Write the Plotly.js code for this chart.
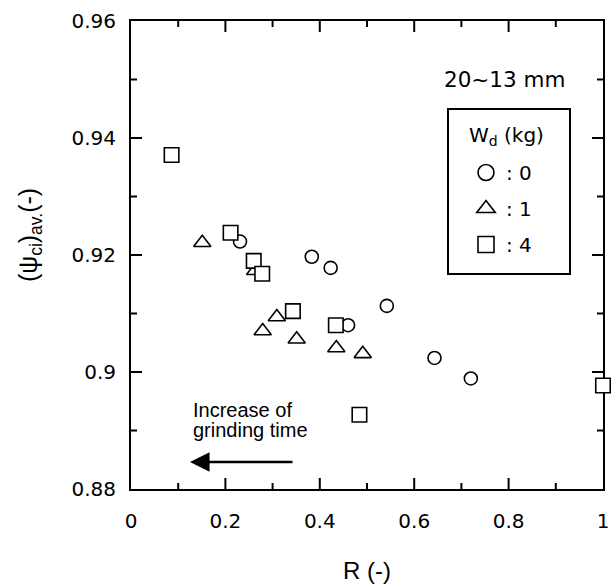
<!DOCTYPE html>
<html>
<head>
<meta charset="utf-8">
<script src="https://cdn.plot.ly/plotly-3.0.1.min.js"></script>
<style>
  html, body { margin: 0; padding: 0; background: #fff; }
  #chart { width: 611px; height: 584px; }
</style>
</head>
<body>
<div id="chart"></div>
<script>
// ---- data ----
const seriesNames = [': 0', ': 1', ': 4'];           // W_d (kg) = 0, 1, 4
const circR   = [0.231, 0.383, 0.423, 0.460, 0.542, 0.643, 0.720];
const circPsi = [0.9223, 0.9197, 0.9178, 0.9080, 0.9113, 0.9024, 0.8989];
const triR    = [0.151, 0.263, 0.279, 0.309, 0.351, 0.435, 0.491];
const triPsi  = [0.9221, 0.9173, 0.9070, 0.9094, 0.9056, 0.9041, 0.9031];
const sqR     = [0.086, 0.211, 0.260, 0.278, 0.343, 0.434, 0.484, 1.000];
const sqPsi   = [0.9371, 0.9238, 0.9190, 0.9168, 0.9104, 0.9080, 0.8927, 0.8977];
const xTickVals = [0, 0.2, 0.4, 0.6, 0.8, 1];
const xTickText = ['0', '0.2', '0.4', '0.6', '0.8', '1'];
const yTickVals = [0.88, 0.90, 0.92, 0.94, 0.96];
const yTickText = ['0.88', '0.9', '0.92', '0.94', '0.96'];
const xMinorVals = [0.1, 0.3, 0.5, 0.7, 0.9];
const yMinorVals = [0.89, 0.91, 0.93, 0.95];
const xRange = [0, 1];
const yRange = [0.88, 0.96];

const numFont = 'DejaVu Sans, sans-serif';
const txtFont = 'Liberation Sans, Arial, sans-serif';

function markerStyle(symbol, size) {
  return { symbol: symbol, size: size, color: '#ffffff',
           line: { color: '#000000', width: 1.6 } };
}

const symbols = ['circle', 'triangle-up', 'square'];
const plotSizes = [13, 15, 14.5];

const traces = [
  { x: circR, y: circPsi, name: seriesNames[0], legendgroup: 'g0', showlegend: false,
    type: 'scatter', mode: 'markers', marker: markerStyle(symbols[0], plotSizes[0]), cliponaxis: false },
  { x: triR, y: triPsi, name: seriesNames[1], legendgroup: 'g1', showlegend: false,
    type: 'scatter', mode: 'markers', marker: markerStyle(symbols[1], plotSizes[1]), cliponaxis: false },
  { x: sqR, y: sqPsi, name: seriesNames[2], legendgroup: 'g2', showlegend: false,
    type: 'scatter', mode: 'markers', marker: markerStyle(symbols[2], plotSizes[2]), cliponaxis: false }
];
// legend entries (larger symbols, as in the reference key)
for (let i = 0; i < 3; i++) {
  traces.push({ x: [null], y: [null], name: seriesNames[i], legendgroup: 'g' + i,
    type: 'scatter', mode: 'markers', marker: markerStyle(symbols[i], 16), showlegend: true });
}

const W = 611, H = 584, ML = 131, MR = 8, MT = 21, MB = 95;
const PW = W - ML - MR, PH = H - MT - MB;
const px = v => (v - ML) / PW;       // pixel -> paper x
const py = v => (H - MB - v) / PH;   // pixel -> paper y
// axis value -> paper fraction (linear axes)
const xFrac = v => (v - xRange[0]) / (xRange[1] - xRange[0]);
const yFrac = v => (v - yRange[0]) / (yRange[1] - yRange[0]);

// inward-pointing tick marks on all four sides of the frame
const tickLine = { color: '#000', width: 2 };
const tickShapes = [];
function xTicks(vals, len) {
  const d = len / PH;
  vals.forEach(v => {
    const f = xFrac(v);
    tickShapes.push({ type: 'line', layer: 'above', xref: 'paper', yref: 'paper',
      x0: f, x1: f, y0: 0, y1: d, line: tickLine });
    tickShapes.push({ type: 'line', layer: 'above', xref: 'paper', yref: 'paper',
      x0: f, x1: f, y0: 1, y1: 1 - d, line: tickLine });
  });
}
function yTicks(vals, len) {
  const d = len / PW;
  vals.forEach(v => {
    const f = yFrac(v);
    tickShapes.push({ type: 'line', layer: 'above', xref: 'paper', yref: 'paper',
      y0: f, y1: f, x0: 0, x1: d, line: tickLine });
    tickShapes.push({ type: 'line', layer: 'above', xref: 'paper', yref: 'paper',
      y0: f, y1: f, x0: 1, x1: 1 - d, line: tickLine });
  });
}
xTicks(xTickVals.slice(1, -1), 11);
xTicks(xMinorVals, 6);
yTicks(yTickVals.slice(1, -1), 11);
yTicks(yMinorVals, 6);

const layout = {
  width: W, height: H,
  margin: { l: ML, r: MR, t: MT, b: MB },
  paper_bgcolor: '#fff', plot_bgcolor: '#fff',
  showlegend: true,
  xaxis: {
    range: xRange, tickmode: 'array', tickvals: xTickVals, ticktext: xTickText,
    showline: true, linecolor: '#000', linewidth: 2, mirror: true, layer: 'below traces',
    ticks: '', showgrid: false, zeroline: false, ticklabelstandoff: 13,
    tickfont: { family: numFont, size: 20, color: '#000' },
    title: { text: 'R (-)', font: { family: txtFont, size: 24, color: '#000' }, standoff: 33 }
  },
  yaxis: {
    range: yRange, tickmode: 'array', tickvals: yTickVals, ticktext: yTickText,
    showline: true, linecolor: '#000', linewidth: 2, mirror: true, layer: 'below traces',
    ticks: '', showgrid: false, zeroline: false, ticklabelstandoff: 9,
    tickfont: { family: numFont, size: 20, color: '#000' }
  },
  legend: {
    x: px(450), y: py(153), xanchor: 'left', yanchor: 'top',
    bgcolor: 'rgba(0,0,0,0)', borderwidth: 0,
    font: { family: numFont, size: 20, color: '#000' },
    tracegroupgap: 7, indentation: 16, itemsizing: 'trace'
  },
  shapes: tickShapes.concat([
    { type: 'rect', xref: 'paper', yref: 'paper',
      x0: px(448), x1: px(570), y0: py(274), y1: py(109),
      line: { color: '#000', width: 2 }, fillcolor: '#fff', layer: 'above' }
  ]),
  annotations: [
    { xref: 'paper', yref: 'paper', x: px(30), y: py(235), xanchor: 'center', yanchor: 'middle',
      textangle: -90, showarrow: false,
      text: '(ψ<sub>ci</sub>)<sub>av.</sub>(-)',
      font: { family: txtFont, size: 25, color: '#000' } },
    { xref: 'paper', yref: 'paper', x: px(504), y: py(79), xanchor: 'center', yanchor: 'middle',
      showarrow: false, text: '20~13 mm',
      font: { family: numFont, size: 21.5, color: '#000' } },
    { xref: 'paper', yref: 'paper', x: px(506), y: py(136), xanchor: 'center', yanchor: 'middle',
      showarrow: false, text: 'W<sub>d</sub> (kg)',
      font: { family: numFont, size: 20, color: '#000' } },
    { xref: 'paper', yref: 'paper', x: px(191), y: py(410), xanchor: 'left', yanchor: 'middle',
      showarrow: false, text: 'Increase of',
      font: { family: txtFont, size: 20, color: '#000' } },
    { xref: 'paper', yref: 'paper', x: px(191), y: py(430), xanchor: 'left', yanchor: 'middle',
      showarrow: false, text: 'grinding time',
      font: { family: txtFont, size: 20, color: '#000' } },
    { xref: 'paper', yref: 'paper', axref: 'pixel', ayref: 'pixel',
      x: px(190), y: py(462), ax: 104, ay: 0, text: '',
      showarrow: true, arrowhead: 2, arrowsize: 1.7, arrowwidth: 2.3, arrowcolor: '#000', standoff: 0 }
  ]
};

Plotly.newPlot('chart', traces, layout, { displayModeBar: false, staticPlot: true });
</script>
</body>
</html>
